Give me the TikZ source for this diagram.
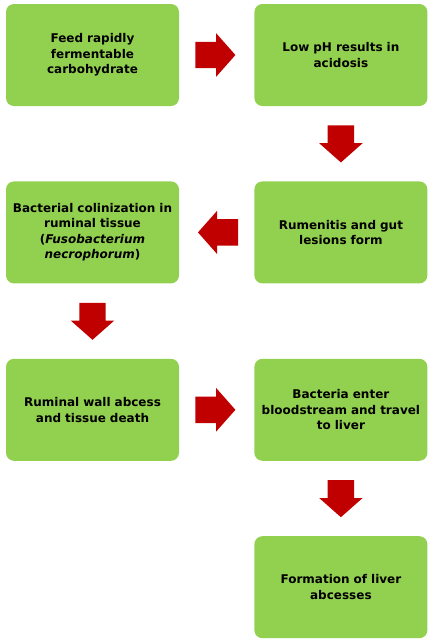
\documentclass[tikz,border=0pt]{standalone}
\usepackage{fontspec}
\setmainfont{DejaVu Sans}
\usetikzlibrary{shapes.arrows, positioning, calc}
\definecolor{boxgreen}{HTML}{92D050}
\definecolor{arrowred}{HTML}{C00000}

\begin{document}
\begin{tikzpicture}[node distance=75pt]
        \tikzstyle{stage} = [rectangle, rounded corners=8pt, minimum width=173pt, minimum height=102pt, text width=163pt, align=center, fill=boxgreen, font=\bfseries\fontsize{12}{15.5}\selectfont]
        \tikzstyle{fatarrow} = [single arrow, fill=arrowred, inner xsep=0pt, inner ysep=13pt, minimum height=40pt, single arrow head extend=8.5pt, single arrow tip angle=97, single arrow head indent=0pt]
        \tikzstyle{downarrow} = [fatarrow, rotate=-90, minimum height=37pt]

        \useasboundingbox (0,0) rectangle (435pt,-641pt);

        \node (feed) [stage] at (92.5pt,-55pt) {Feed rapidly\\fermentable\\carbohydrate};
        \node (lowph) [stage, right=of feed] {Low pH results in\\acidosis};
        \node (rumen) [stage, below=of lowph] {Rumenitis and gut\\lesions form};
        \node (colon) [stage, left=of rumen] {Bacterial colinization in\\ruminal tissue\\(\textit{Fusobacterium}\\\textit{necrophorum})};
        \node (wall) [stage, below=of colon] {Ruminal wall abcess\\and tissue death};
        \node (blood) [stage, right=of wall] {Bacteria enter\\bloodstream and travel\\to liver};
        \node (liver) [stage, below=of blood] {Formation of liver\\abcesses};

        \node (go1) [fatarrow, anchor=tail] at ($(feed.east)+(16pt,0)$) {};
        \node (go2) [downarrow, anchor=tail] at ($(lowph.south)+(0,-19pt)$) {};
        \node (go3) [fatarrow, rotate=180, anchor=tail] at ($(rumen.west)+(-16pt,0)$) {};
        \node (go4) [downarrow, anchor=tail] at ($(colon.south)+(0,-19pt)$) {};
        \node (go5) [fatarrow, anchor=tail] at ($(wall.east)+(16pt,0)$) {};
        \node (go6) [downarrow, anchor=tail] at ($(blood.south)+(0,-19pt)$) {};
    \end{tikzpicture}
\end{document}
